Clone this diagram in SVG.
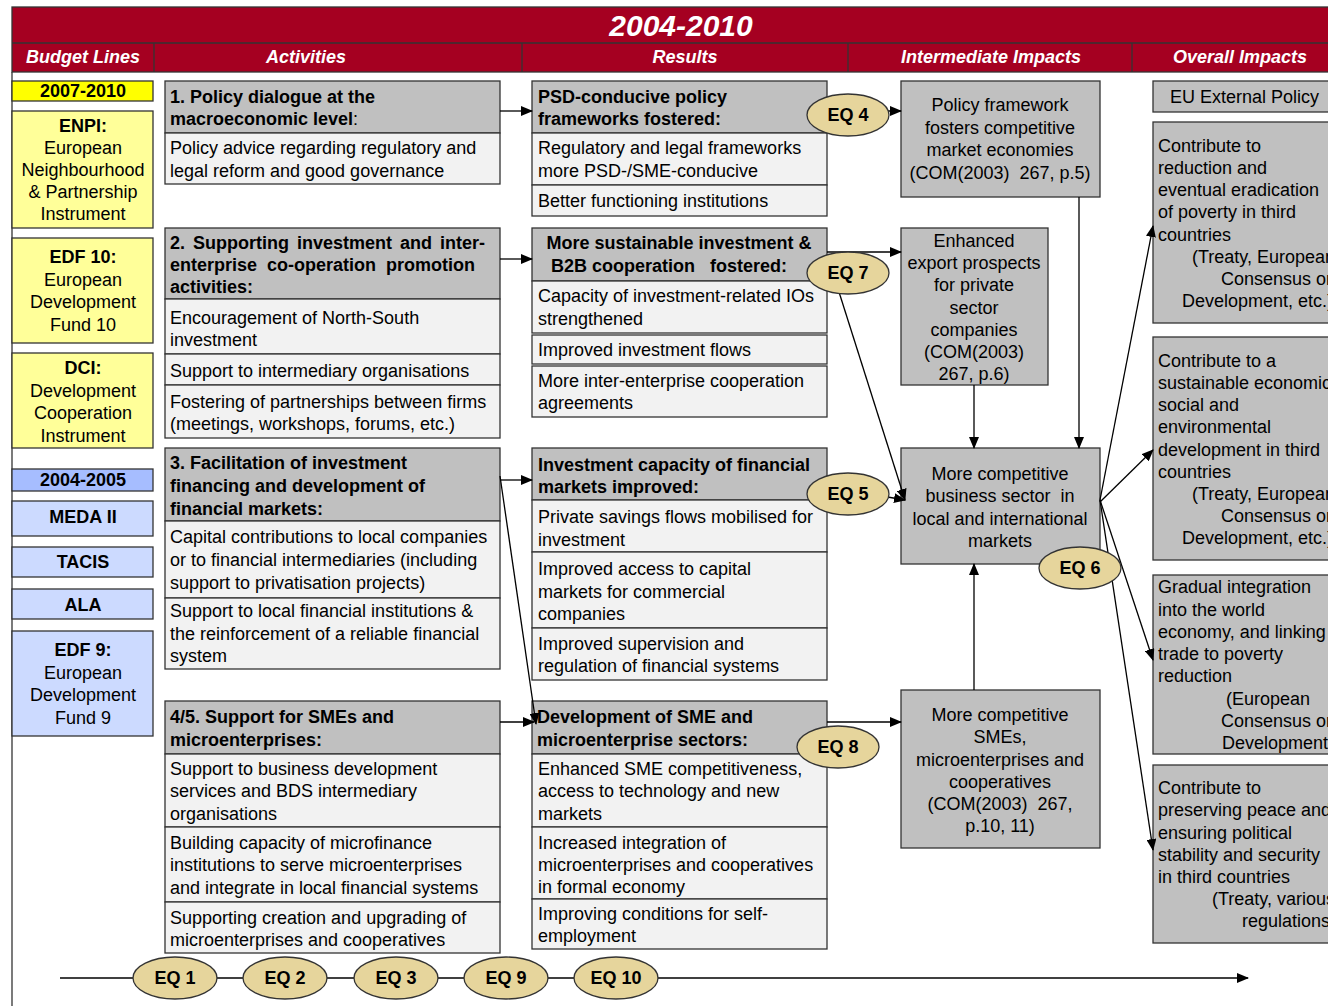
<svg xmlns="http://www.w3.org/2000/svg" width="1328" height="1006" viewBox="0 0 1328 1006">
<style>
  text { font-family: "Liberation Sans", Arial, sans-serif; font-size: 18px; fill: #000; }
  .b { font-weight: bold; }
  .c { text-anchor: middle; }
  .hd { fill: #fff; font-weight: bold; font-style: italic; text-anchor: middle; }
  .ttl { fill: #fff; font-weight: bold; font-style: italic; font-size: 30px; text-anchor: middle; }
  .hbox { fill: #c0c0c0; stroke: #333; stroke-width: 1.3; }
  .rbox { fill: #f2f2f2; stroke: #333; stroke-width: 1.3; }
  .gbox { fill: #c0c0c0; stroke: #333; stroke-width: 1.3; }
  .y1 { fill: #ffff00; stroke: #333; stroke-width: 1.3; }
  .y2 { fill: #ffff99; stroke: #333; stroke-width: 1.3; }
  .b1 { fill: #a6bdff; stroke: #333; stroke-width: 1.3; }
  .b2 { fill: #ccdaff; stroke: #333; stroke-width: 1.3; }
  .eq { fill: #e6d59c; stroke: #333; stroke-width: 1.3; }
  .ln { fill: none; stroke: #000; stroke-width: 1.3; }
</style>
<defs>
  <marker id="ah" viewBox="0 0 12 10" refX="11" refY="5" markerWidth="12" markerHeight="10" markerUnits="userSpaceOnUse" orient="auto">
    <path d="M0,0 L12,5 L0,10 z" fill="#000"/>
  </marker>
</defs>

<!-- header band -->
<g id="header">
  <rect x="12" y="7" width="1330" height="65" fill="#a50021" stroke="#333" stroke-width="1.3"/>
  <line x1="12" y1="43" x2="1342" y2="43" stroke="#333" stroke-width="1.3"/>
  <line x1="154" y1="43" x2="154" y2="72" stroke="#333" stroke-width="1.3"/>
  <line x1="522" y1="43" x2="522" y2="72" stroke="#333" stroke-width="1.3"/>
  <line x1="848" y1="43" x2="848" y2="72" stroke="#333" stroke-width="1.3"/>
  <line x1="1132" y1="43" x2="1132" y2="72" stroke="#333" stroke-width="1.3"/>
  <text class="ttl" x="681" y="36">2004-2010</text>
  <text class="hd" x="83" y="63">Budget Lines</text>
  <text class="hd" x="306" y="63">Activities</text>
  <text class="hd" x="685" y="63">Results</text>
  <text class="hd" x="991" y="63">Intermediate Impacts</text>
  <text class="hd" x="1240" y="63">Overall Impacts</text>
</g>
<line x1="12" y1="72" x2="12" y2="1006" stroke="#333" stroke-width="1.3"/>

<!-- budget lines -->
<g id="bl-2007">
  <rect class="y1" x="12" y="81" width="141" height="20"/>
  <text class="b c" x="83" y="97">2007-2010</text>
</g>
<g id="bl-enpi">
  <rect class="y2" x="12" y="111" width="141" height="117"/>
  <text class="b c" x="83" y="132">ENPI:</text>
  <text class="c" x="83" y="154">European</text>
  <text class="c" x="83" y="176">Neighbourhood</text>
  <text class="c" x="83" y="198">&amp; Partnership</text>
  <text class="c" x="83" y="220">Instrument</text>
</g>
<g id="bl-edf10">
  <rect class="y2" x="12" y="238" width="141" height="105"/>
  <text class="b c" x="83" y="263">EDF 10:</text>
  <text class="c" x="83" y="286">European</text>
  <text class="c" x="83" y="308">Development</text>
  <text class="c" x="83" y="331">Fund 10</text>
</g>
<g id="bl-dci">
  <rect class="y2" x="12" y="353" width="141" height="95"/>
  <text class="b c" x="83" y="374">DCI:</text>
  <text class="c" x="83" y="397">Development</text>
  <text class="c" x="83" y="419">Cooperation</text>
  <text class="c" x="83" y="442">Instrument</text>
</g>
<g id="bl-2004">
  <rect class="b1" x="12" y="469" width="141" height="22"/>
  <text class="b c" x="83" y="486">2004-2005</text>
</g>
<g id="bl-meda">
  <rect class="b2" x="12" y="501" width="141" height="35"/>
  <text class="b c" x="83" y="523">MEDA II</text>
</g>
<g id="bl-tacis">
  <rect class="b2" x="12" y="547" width="141" height="30"/>
  <text class="b c" x="83" y="568">TACIS</text>
</g>
<g id="bl-ala">
  <rect class="b2" x="12" y="589" width="141" height="30"/>
  <text class="b c" x="83" y="611">ALA</text>
</g>
<g id="bl-edf9">
  <rect class="b2" x="12" y="631" width="141" height="105"/>
  <text class="b c" x="83" y="656">EDF 9:</text>
  <text class="c" x="83" y="679">European</text>
  <text class="c" x="83" y="701">Development</text>
  <text class="c" x="83" y="724">Fund 9</text>
</g>

<!-- activities -->
<g id="act1">
  <rect class="hbox" x="165" y="81" width="335" height="52"/>
  <rect class="rbox" x="165" y="133" width="335" height="51"/>
  <text class="b" x="170" y="103">1. Policy dialogue at the</text>
  <text x="170" y="125"><tspan class="b">macroeconomic level</tspan>:</text>
  <text x="170" y="154">Policy advice regarding regulatory and</text>
  <text x="170" y="177">legal reform and good governance</text>
</g>
<g id="act2">
  <rect class="hbox" x="165" y="228" width="335" height="71"/>
  <rect class="rbox" x="165" y="299" width="335" height="55"/>
  <rect class="rbox" x="165" y="354" width="335" height="31"/>
  <rect class="rbox" x="165" y="385" width="335" height="53"/>
  <text class="b" x="170" y="249" word-spacing="3">2. Supporting investment and inter-</text>
  <text class="b" x="170" y="271" word-spacing="5">enterprise co-operation promotion</text>
  <text class="b" x="170" y="293">activities:</text>
  <text x="170" y="324">Encouragement of North-South</text>
  <text x="170" y="346">investment</text>
  <text x="170" y="377">Support to intermediary organisations</text>
  <text x="170" y="408">Fostering of partnerships between firms</text>
  <text x="170" y="430">(meetings, workshops, forums, etc.)</text>
</g>
<g id="act3">
  <rect class="hbox" x="165" y="448" width="335" height="73"/>
  <rect class="rbox" x="165" y="521" width="335" height="77"/>
  <rect class="rbox" x="165" y="598" width="335" height="71"/>
  <text class="b" x="170" y="469">3. Facilitation of investment</text>
  <text class="b" x="170" y="492">financing and development of</text>
  <text class="b" x="170" y="515">financial markets:</text>
  <text x="170" y="543">Capital contributions to local companies</text>
  <text x="170" y="566">or to financial intermediaries (including</text>
  <text x="170" y="589">support to privatisation projects)</text>
  <text x="170" y="617">Support to local financial institutions &amp;</text>
  <text x="170" y="640">the reinforcement of a reliable financial</text>
  <text x="170" y="662">system</text>
</g>
<g id="act4">
  <rect class="hbox" x="165" y="701" width="335" height="53"/>
  <rect class="rbox" x="165" y="754" width="335" height="73"/>
  <rect class="rbox" x="165" y="827" width="335" height="75"/>
  <rect class="rbox" x="165" y="902" width="335" height="51"/>
  <text class="b" x="170" y="723">4/5. Support for SMEs and</text>
  <text class="b" x="170" y="746">microenterprises:</text>
  <text x="170" y="775">Support to business development</text>
  <text x="170" y="797">services and BDS intermediary</text>
  <text x="170" y="820">organisations</text>
  <text x="170" y="849">Building capacity of microfinance</text>
  <text x="170" y="871">institutions to serve microenterprises</text>
  <text x="170" y="894">and integrate in local financial systems</text>
  <text x="170" y="924">Supporting creation and upgrading of</text>
  <text x="170" y="946">microenterprises and cooperatives</text>
</g>

<!-- results -->
<g id="res1">
  <rect class="hbox" x="532" y="81" width="295" height="52"/>
  <rect class="rbox" x="532" y="133" width="295" height="52"/>
  <rect class="rbox" x="532" y="185" width="295" height="31"/>
  <text class="b" x="538" y="103">PSD-conducive policy</text>
  <text class="b" x="538" y="125">frameworks fostered:</text>
  <text x="538" y="154">Regulatory and legal frameworks</text>
  <text x="538" y="177">more PSD-/SME-conducive</text>
  <text x="538" y="207">Better functioning institutions</text>
</g>
<g id="res2">
  <rect class="hbox" x="532" y="228" width="295" height="53"/>
  <rect class="rbox" x="532" y="281" width="295" height="52"/>
  <rect class="rbox" x="532" y="335" width="295" height="29"/>
  <rect class="rbox" x="532" y="366" width="295" height="51"/>
  <text class="b c" x="679" y="249">More sustainable investment &amp;</text>
  <text class="b c" x="669" y="272" xml:space="preserve">B2B cooperation   fostered:</text>
  <text x="538" y="302">Capacity of investment-related IOs</text>
  <text x="538" y="325">strengthened</text>
  <text x="538" y="356">Improved investment flows</text>
  <text x="538" y="387">More inter-enterprise cooperation</text>
  <text x="538" y="409">agreements</text>
</g>
<g id="res3">
  <rect class="hbox" x="532" y="448" width="295" height="52"/>
  <rect class="rbox" x="532" y="500" width="295" height="52"/>
  <rect class="rbox" x="532" y="552" width="295" height="76"/>
  <rect class="rbox" x="532" y="628" width="295" height="52"/>
  <text class="b" x="538" y="471">Investment capacity of financial</text>
  <text class="b" x="538" y="493">markets improved:</text>
  <text x="538" y="523">Private savings flows mobilised for</text>
  <text x="538" y="546">investment</text>
  <text x="538" y="575">Improved access to capital</text>
  <text x="538" y="598">markets for commercial</text>
  <text x="538" y="620">companies</text>
  <text x="538" y="650">Improved supervision and</text>
  <text x="538" y="672">regulation of financial systems</text>
</g>
<g id="res4">
  <rect class="hbox" x="532" y="701" width="295" height="53"/>
  <rect class="rbox" x="532" y="754" width="295" height="73"/>
  <rect class="rbox" x="532" y="827" width="295" height="72"/>
  <rect class="rbox" x="532" y="899" width="295" height="50"/>
  <text class="b" x="537" y="723">Development of SME and</text>
  <text class="b" x="537" y="746">microenterprise sectors:</text>
  <text x="538" y="775">Enhanced SME competitiveness,</text>
  <text x="538" y="797">access to technology and new</text>
  <text x="538" y="820">markets</text>
  <text x="538" y="849">Increased integration of</text>
  <text x="538" y="871">microenterprises and cooperatives</text>
  <text x="538" y="893">in formal economy</text>
  <text x="538" y="920">Improving conditions for self-</text>
  <text x="538" y="942">employment</text>
</g>

<!-- intermediate impacts -->
<g id="int1">
  <rect class="gbox" x="901" y="81" width="199" height="116"/>
  <text class="c" x="1000" y="111">Policy framework</text>
  <text class="c" x="1000" y="134">fosters competitive</text>
  <text class="c" x="1000" y="156">market economies</text>
  <text class="c" x="1000" y="179" xml:space="preserve">(COM(2003)  267, p.5)</text>
</g>
<g id="int2">
  <rect class="gbox" x="901" y="228" width="147" height="157"/>
  <text class="c" x="974" y="247">Enhanced</text>
  <text class="c" x="974" y="269">export prospects</text>
  <text class="c" x="974" y="291">for private</text>
  <text class="c" x="974" y="314">sector</text>
  <text class="c" x="974" y="336">companies</text>
  <text class="c" x="974" y="358">(COM(2003)</text>
  <text class="c" x="974" y="380">267, p.6)</text>
</g>
<g id="int3">
  <rect class="gbox" x="901" y="448" width="199" height="116"/>
  <text class="c" x="1000" y="480">More competitive</text>
  <text class="c" x="1000" y="502" xml:space="preserve">business sector  in</text>
  <text class="c" x="1000" y="525">local and international</text>
  <text class="c" x="1000" y="547">markets</text>
</g>
<g id="int4">
  <rect class="gbox" x="901" y="690" width="199" height="158"/>
  <text class="c" x="1000" y="721">More competitive</text>
  <text class="c" x="1000" y="743">SMEs,</text>
  <text class="c" x="1000" y="766">microenterprises and</text>
  <text class="c" x="1000" y="788">cooperatives</text>
  <text class="c" x="1000" y="810" xml:space="preserve">(COM(2003)  267,</text>
  <text class="c" x="1000" y="832">p.10, 11)</text>
</g>

<!-- overall impacts -->
<g id="ov0">
  <rect class="gbox" x="1153" y="81" width="190" height="31"/>
  <text x="1170" y="103">EU External Policy</text>
</g>
<g id="ov1">
  <rect class="gbox" x="1153" y="122" width="190" height="201"/>
  <text x="1158" y="152">Contribute to</text>
  <text x="1158" y="174">reduction and</text>
  <text x="1158" y="196">eventual eradication</text>
  <text x="1158" y="218">of poverty in third</text>
  <text x="1158" y="241">countries</text>
  <text x="1192" y="263">(Treaty, European</text>
  <text x="1221" y="285">Consensus on</text>
  <text x="1182" y="307">Development, etc.)</text>
</g>
<g id="ov2">
  <rect class="gbox" x="1153" y="337" width="190" height="223"/>
  <text x="1158" y="367">Contribute to a</text>
  <text x="1158" y="389">sustainable economic,</text>
  <text x="1158" y="411">social and</text>
  <text x="1158" y="433">environmental</text>
  <text x="1158" y="456">development in third</text>
  <text x="1158" y="478">countries</text>
  <text x="1192" y="500">(Treaty, European</text>
  <text x="1221" y="522">Consensus on</text>
  <text x="1182" y="544">Development, etc.)</text>
</g>
<g id="ov3">
  <rect class="gbox" x="1153" y="575" width="190" height="179"/>
  <text x="1158" y="593">Gradual integration</text>
  <text x="1158" y="616">into the world</text>
  <text x="1158" y="638">economy, and linking</text>
  <text x="1158" y="660">trade to poverty</text>
  <text x="1158" y="682">reduction</text>
  <text x="1226" y="705">(European</text>
  <text x="1221" y="727">Consensus on</text>
  <text x="1222" y="749">Development</text>
</g>
<g id="ov4">
  <rect class="gbox" x="1153" y="765" width="190" height="178"/>
  <text x="1158" y="794">Contribute to</text>
  <text x="1158" y="816">preserving peace and</text>
  <text x="1158" y="839">ensuring political</text>
  <text x="1158" y="861">stability and security</text>
  <text x="1158" y="883">in third countries</text>
  <text x="1212" y="905">(Treaty, various</text>
  <text x="1242" y="927">regulations)</text>
</g>

<!-- connectors -->
<g id="connectors">
  <line class="ln" x1="500" y1="111" x2="532" y2="111" marker-end="url(#ah)"/>
  <line class="ln" x1="500" y1="259" x2="532" y2="259" marker-end="url(#ah)"/>
  <line class="ln" x1="500" y1="480" x2="532" y2="480" marker-end="url(#ah)"/>
  <line class="ln" x1="500" y1="722" x2="534" y2="722" marker-end="url(#ah)"/>
  <line class="ln" x1="500" y1="476" x2="536" y2="724" marker-end="url(#ah)"/>
  <line class="ln" x1="827" y1="111" x2="901" y2="111" marker-end="url(#ah)"/>
  <line class="ln" x1="827" y1="252" x2="901" y2="252" marker-end="url(#ah)"/>
  <line class="ln" x1="839" y1="292" x2="905" y2="500" marker-end="url(#ah)"/>
  <line class="ln" x1="870" y1="494" x2="905" y2="500" marker-end="url(#ah)"/>
  <line class="ln" x1="827" y1="722" x2="901" y2="722" marker-end="url(#ah)"/>
  <line class="ln" x1="1079" y1="197" x2="1079" y2="448" marker-end="url(#ah)"/>
  <line class="ln" x1="974" y1="385" x2="974" y2="448" marker-end="url(#ah)"/>
  <line class="ln" x1="974" y1="690" x2="974" y2="564" marker-end="url(#ah)"/>
  <line class="ln" x1="1100" y1="500" x2="1153" y2="226" marker-end="url(#ah)"/>
  <line class="ln" x1="1100" y1="502" x2="1153" y2="450" marker-end="url(#ah)"/>
  <line class="ln" x1="1100" y1="500" x2="1153" y2="660" marker-end="url(#ah)"/>
  <line class="ln" x1="1100" y1="500" x2="1153" y2="850" marker-end="url(#ah)"/>
  <line class="ln" x1="60" y1="978" x2="1248" y2="978" marker-end="url(#ah)"/>
</g>

<!-- evaluation questions -->
<g id="eq4"><ellipse class="eq" cx="848" cy="115" rx="41" ry="21"/><text class="b c" x="848" y="121">EQ 4</text></g>
<g id="eq7"><ellipse class="eq" cx="848" cy="273" rx="41" ry="21"/><text class="b c" x="848" y="279">EQ 7</text></g>
<g id="eq5"><ellipse class="eq" cx="848" cy="494" rx="41" ry="21"/><text class="b c" x="848" y="500">EQ 5</text></g>
<g id="eq6"><ellipse class="eq" cx="1080" cy="568" rx="41" ry="21"/><text class="b c" x="1080" y="574">EQ 6</text></g>
<g id="eq8"><ellipse class="eq" cx="838" cy="747" rx="41" ry="21"/><text class="b c" x="838" y="753">EQ 8</text></g>
<g id="eq1"><ellipse class="eq" cx="175" cy="978" rx="42" ry="21"/><text class="b c" x="175" y="984">EQ 1</text></g>
<g id="eq2"><ellipse class="eq" cx="285" cy="978" rx="42" ry="21"/><text class="b c" x="285" y="984">EQ 2</text></g>
<g id="eq3"><ellipse class="eq" cx="396" cy="978" rx="42" ry="21"/><text class="b c" x="396" y="984">EQ 3</text></g>
<g id="eq9"><ellipse class="eq" cx="506" cy="978" rx="42" ry="21"/><text class="b c" x="506" y="984">EQ 9</text></g>
<g id="eq10"><ellipse class="eq" cx="616" cy="978" rx="42" ry="21"/><text class="b c" x="616" y="984">EQ 10</text></g>
</svg>
